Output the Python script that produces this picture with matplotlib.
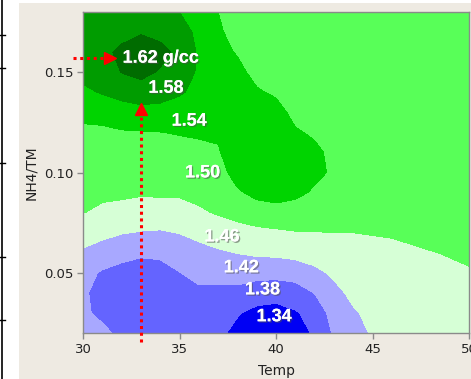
import numpy as np
import matplotlib
matplotlib.use("Agg")
import matplotlib.pyplot as plt
import matplotlib.patheffects as pe
from matplotlib.lines import Line2D
from matplotlib.patches import Rectangle

# grid
temp = [30, 31, 32, 33, 34, 35, 36, 37, 38, 39, 40, 41, 42, 43, 44, 46, 48, 50]
nh4_tm = [0.02, 0.03, 0.04, 0.05, 0.06, 0.07, 0.08, 0.09, 0.10,
          0.11, 0.12, 0.13, 0.14, 0.15, 0.16, 0.17, 0.18]

# density (g/cc), one list per Temp column, bottom to top in NH4/TM
density_cols = [
    [1.392, 1.386, 1.385, 1.392, 1.4145, 1.4374, 1.4605, 1.4688, 1.4774, 1.4861, 1.493, 1.509, 1.532, 1.552, 1.562, 1.565, 1.563],
    [1.388, 1.372, 1.368, 1.376, 1.403, 1.430, 1.456, 1.464, 1.473, 1.4825, 1.492, 1.515, 1.543, 1.562, 1.568, 1.566, 1.560],
    [1.372, 1.360, 1.360, 1.368, 1.392, 1.422, 1.449, 1.466, 1.476, 1.486, 1.4967, 1.5227, 1.553, 1.581, 1.590, 1.565, 1.556],
    [1.358, 1.352, 1.352, 1.362, 1.386, 1.418, 1.443, 1.464, 1.475, 1.487, 1.498, 1.528, 1.560, 1.592, 1.620, 1.574, 1.552],
    [1.356, 1.350, 1.351, 1.362, 1.3895, 1.4165, 1.441, 1.466, 1.475, 1.487, 1.4995, 1.528, 1.554, 1.576, 1.594, 1.566, 1.548],
    [1.356, 1.352, 1.358, 1.379, 1.4005, 1.421, 1.4455, 1.465, 1.477, 1.489, 1.502, 1.523, 1.544, 1.560, 1.568, 1.558, 1.540],
    [1.355, 1.356, 1.372, 1.392, 1.409, 1.429, 1.455, 1.469, 1.480, 1.492, 1.504, 1.520, 1.530, 1.535, 1.535, 1.530, 1.524],
    [1.348, 1.352, 1.370, 1.394, 1.415, 1.440, 1.463, 1.474, 1.485, 1.4966, 1.505, 1.509, 1.511, 1.511, 1.508, 1.504, 1.500],
    [1.330, 1.343, 1.370, 1.395, 1.421, 1.447, 1.471, 1.495, 1.515, 1.522, 1.525, 1.522, 1.515, 1.507, 1.498, 1.490, 1.485],
    [1.320, 1.330, 1.358, 1.394, 1.426, 1.450, 1.482, 1.510, 1.522, 1.528, 1.528, 1.520, 1.503, 1.492, 1.485, 1.480, 1.477],
    [1.315, 1.328, 1.353, 1.394, 1.4275, 1.453, 1.489, 1.512, 1.522, 1.526, 1.522, 1.510, 1.496, 1.488, 1.482, 1.478, 1.475],
    [1.322, 1.336, 1.363, 1.395, 1.433, 1.458, 1.484, 1.508, 1.516, 1.516, 1.503, 1.492, 1.485, 1.480, 1.477, 1.474, 1.472],
    [1.345, 1.355, 1.381, 1.411, 1.437, 1.459, 1.4775, 1.4955, 1.508, 1.506, 1.496, 1.490, 1.485, 1.480, 1.477, 1.474, 1.472],
    [1.385, 1.395, 1.410, 1.426, 1.443, 1.460, 1.475, 1.488, 1.495, 1.493, 1.488, 1.484, 1.480, 1.477, 1.475, 1.473, 1.471],
    [1.408, 1.416, 1.428, 1.439, 1.449, 1.460, 1.470, 1.478, 1.482, 1.481, 1.479, 1.477, 1.475, 1.474, 1.473, 1.472, 1.470],
    [1.438, 1.442, 1.446, 1.451, 1.456, 1.4615, 1.468, 1.472, 1.474, 1.475, 1.474, 1.473, 1.472, 1.471, 1.470, 1.470, 1.469],
    [1.443, 1.447, 1.451, 1.455, 1.4595, 1.464, 1.467, 1.469, 1.471, 1.471, 1.471, 1.470, 1.470, 1.469, 1.469, 1.468, 1.468],
    [1.447, 1.451, 1.455, 1.459, 1.462, 1.464, 1.466, 1.467, 1.468, 1.468, 1.468, 1.468, 1.468, 1.468, 1.468, 1.468, 1.468],
]

levels = [1.20, 1.34, 1.38, 1.42, 1.46, 1.50, 1.54, 1.58, 1.70]
colores = ['#0000f4', '#6464ff', '#a8a8ff', '#d6ffd6',
           '#58ff58', '#00d400', '#009c00', '#006c00']

# etiquetas de cada zona
etiquetas = ['1.62 g/cc', '1.58', '1.54', '1.50', '1.46', '1.42', '1.38', '1.34']
etiq_temp = [32.05, 34.3, 35.5, 36.2, 37.2, 38.2, 39.3, 39.9]
etiq_ratio = [0.157, 0.142, 0.1256, 0.0998, 0.0679, 0.0525, 0.0415, 0.0281]

# punto optimo
opt_temp = 33.0
opt_ratio = 0.157

Z = np.array(density_cols).T
X, Y = np.meshgrid(temp, nh4_tm)

fig = plt.figure(figsize=(4.71, 3.79), dpi=100, facecolor='white')
fig.patches.append(Rectangle((19 / 471, 0), 1, 1 - 3 / 379, transform=fig.transFigure,
                             facecolor='#eeeae2', edgecolor='none', zorder=-10))
fig.add_artist(Line2D([2 / 471, 2 / 471], [0, 1], color='black', lw=1.2))
for yy in [35, 68, 163, 257, 320]:
    fig.add_artist(Line2D([0, 5 / 471], [1 - yy / 379] * 2, color='black', lw=1.0))

ax = fig.add_axes([83 / 471, 46 / 379, 386 / 471, 321 / 379])
ax.contourf(X, Y, Z, levels=levels, colors=colores)
ax.set_xlim(30, 50)
ax.set_ylim(0.02, 0.18)
ax.set_xticks([30, 35, 40, 45, 50])
ax.set_yticks([0.05, 0.10, 0.15])
ax.set_yticklabels(['0.05', '0.10', '0.15'])

for s in ax.spines.values():
    s.set_color('#8a8a8a')
    s.set_linewidth(1.0)
ax.tick_params(colors='#8a8a8a', labelcolor='#222222', labelsize=9.5,
               length=4, width=1, pad=3)
ax.set_xlabel('Temp', fontsize=10, color='#222222', labelpad=6)
ax.set_ylabel('NH4/TM', fontsize=10, color='#222222', labelpad=4)

sombra = [pe.withSimplePatchShadow(offset=(1, -1), shadow_rgbFace='#505050', alpha=0.55),
          pe.Normal()]
for txt, tx, ty in zip(etiquetas, etiq_temp, etiq_ratio):
    ax.text(tx, ty, txt, color='white', fontsize=13, fontweight='bold',
            family='Liberation Sans', ha='left' if 'g/cc' in txt else 'center',
            va='center', path_effects=sombra, zorder=5)

# flechas punteadas rojas hacia el optimo
punteado = dict(color='red', lw=2.2, linestyle=(0, (1, 1.2)), solid_capstyle='butt',
                clip_on=False, zorder=6)
ax.plot([29.48, 31.2], [opt_ratio, opt_ratio], **punteado)
ax.plot([opt_temp, opt_temp], [0.0157, 0.128], **punteado)
ax.plot(31.42, opt_ratio, marker='>', color='red', markersize=9, clip_on=False, zorder=7)
ax.plot(opt_temp, 0.1316, marker='^', color='red', markersize=9, clip_on=False, zorder=7)

fig.savefig('out.png', dpi=100, facecolor=fig.get_facecolor())
